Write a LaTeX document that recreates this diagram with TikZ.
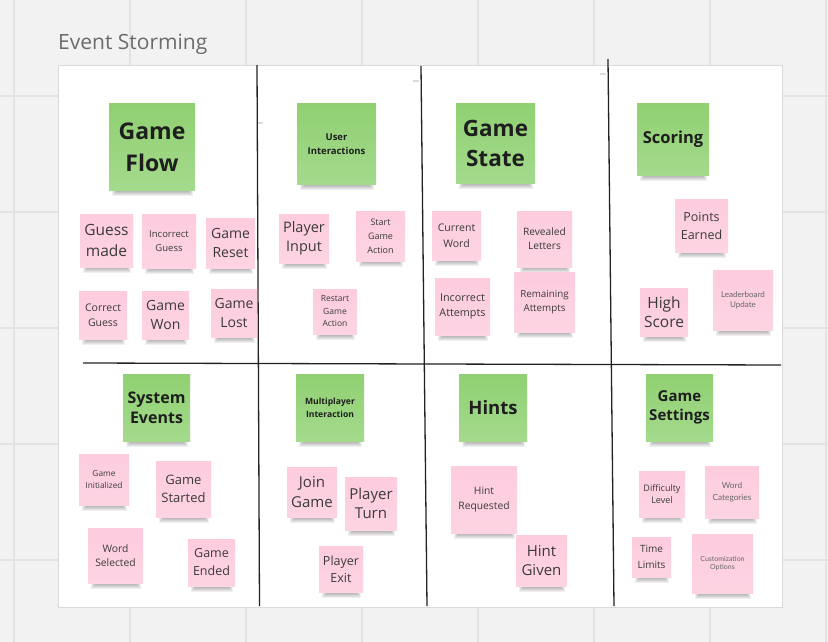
\documentclass[tikz,border=0pt]{standalone}
\usepackage{fontspec}
\setmainfont{Open Sans}
\newfontfamily\latofont{Lato}

\definecolor{canvas}{HTML}{F2F2F2}
\definecolor{gridline}{HTML}{E3E3E3}
\definecolor{boardedge}{HTML}{DADADA}
\definecolor{titlegray}{HTML}{6B6B6B}
\definecolor{divider}{HTML}{222222}
\definecolor{greentop}{HTML}{90D072}
\definecolor{greenbot}{HTML}{A4DA8C}
\definecolor{greentext}{HTML}{1E1E1E}
\definecolor{pinktop}{HTML}{FDCCDE}
\definecolor{pinkbot}{HTML}{FDD4E3}
\definecolor{pinktext}{HTML}{3A3A3A}
\definecolor{softtext}{HTML}{666666}

\tikzset{
  x=1pt, y=-1pt,
  note/.style={inner sep=0pt, align=center, shading=axis, shading angle=0},
  greennote/.style={note, top color=greentop, bottom color=greenbot,
    text=greentext, execute at begin node=\bfseries},
  pinknote/.style={note, top color=pinktop, bottom color=pinkbot, text=pinktext},
  softnote/.style={pinknote, text=softtext, execute at begin node=\latofont},
  divline/.style={draw=divider, line width=1.3pt},
  tick/.style={draw=boardedge, line width=1.5pt},
}

% #1 name, #2 style, #3-#6 box corners (x0,y0,x1,y1), #7 size, #8 leading, #9 text
\newcommand\stickynote[9]{%
  \foreach \k in {1,...,6}{%
    \fill[black, opacity=0.06] ({#3+1.5+\k}, {#6-2}) rectangle ({#5-1.5-\k}, {#6+7-\k});
  }
  \node[#2, minimum width={#5-#3}, minimum height={#6-#4},
        font=\fontsize{#7}{#8}\selectfont]
    (#1) at ({(#3+#5)/2}, {(#4+#6)/2}) {#9};
}

\begin{document}
\begin{tikzpicture}
  % canvas with its grid
  \fill[canvas] (0,0) rectangle (828,642);
  \useasboundingbox (0,0) rectangle (828,642);
  \foreach \gx in {14,130,246,362,478,594,710,826}
    \draw[gridline, line width=1.5pt] (\gx,0) -- (\gx,642);
  \foreach \gy in {96,212,328,444,560}
    \draw[gridline, line width=1.5pt] (0,\gy) -- (828,\gy);

  % frame title and board
  \node[anchor=base west, inner sep=0pt, text=titlegray,
        font=\fontsize{21}{25}\selectfont] (title) at (58,50) {Event Storming};
  \fill[white, draw=boardedge, line width=1pt] (58,66) rectangle (782,607);

  % stray pen marks on the board
  \draw[tick] (413,81) -- (419,81);
  \draw[tick] (600,74) -- (606,74);
  \draw[tick] (257,123) -- (263,123);

  % hand-drawn dividers
  \draw[divline] (257,65) -- (259.5,606);
  \draw[divline] (421,66) -- (427,606);
  \draw[divline] (608,59) -- (614,606);
  \draw[divline] (83,363) -- (781,365);

  % ---- Game Flow
  \stickynote{gameflow}{greennote}{109}{104}{195}{190}{23}{32}{Game\\Flow}
  \stickynote{guessmade}{pinknote}{80}{214}{133}{267}{15.5}{21.5}{Guess\\made}
  \stickynote{incorrectguess}{pinknote}{142}{214}{196}{268}{9.5}{13.7}{Incorrect\\Guess}
  \stickynote{gamereset}{pinknote}{206}{218}{255}{268}{14}{19.3}{Game\\Reset}
  \stickynote{correctguess}{pinknote}{79}{291}{127}{339}{10.5}{14.7}{Correct\\Guess}
  \stickynote{gamewon}{pinknote}{142}{291}{189}{339}{14}{18.7}{Game\\Won}
  \stickynote{gamelost}{pinknote}{211}{289}{257}{337}{14}{18.7}{Game\\Lost}

  % ---- User Interactions
  \stickynote{userinter}{greennote}{297}{104}{376}{184}{9.5}{14}{User\\Interactions}
  \stickynote{playerinput}{pinknote}{279}{214}{329}{263}{14.5}{18.7}{Player\\Input}
  \stickynote{startgame}{pinknote}{356}{211}{405}{261}{9}{14}{Start\\Game\\Action}
  \stickynote{restartgame}{pinknote}{313}{289}{357}{334}{8.5}{12.5}{Restart\\Game\\Action}

  % ---- Game State
  \stickynote{gamestate}{greennote}{456}{104}{535}{183}{22.5}{29.5}{Game\\State}
  \stickynote{currentword}{pinknote}{432}{211}{481}{260}{10.5}{16}{Current\\Word}
  \stickynote{revealed}{pinknote}{517}{211}{572}{267}{10.2}{14}{Revealed\\Letters}
  \stickynote{incorrectatt}{pinknote}{435}{278}{490}{335}{10.8}{14.7}{Incorrect\\Attempts}
  \stickynote{remainingatt}{pinknote}{514}{272}{575}{332}{9.8}{13.3}{Remaining\\Attempts}

  % ---- Scoring
  \stickynote{scoring}{greennote}{637}{104}{709}{175}{16.5}{20}{Scoring}
  \stickynote{points}{pinknote}{675}{199}{728}{252}{12.5}{18}{Points\\Earned}
  \stickynote{highscore}{pinknote}{640}{288}{688}{336}{15.5}{19.5}{High\\Score}
  \stickynote{leaderboard}{softnote}{713}{270}{773}{330}{8}{9.8}{Leaderboard\\Update}

  % ---- System Events
  \stickynote{sysevents}{greennote}{123}{374}{190}{441}{16}{20}{System\\Events}
  \stickynote{gameinit}{pinknote}{79}{454}{129}{505}{8.3}{12}{Game\\Initialized}
  \stickynote{gamestarted}{pinknote}{156}{461}{211}{517}{13}{17.5}{Game\\Started}
  \stickynote{wordselected}{pinknote}{88}{528}{143}{583}{10.3}{14.7}{Word\\Selected}
  \stickynote{gameended}{pinknote}{188}{539}{235}{586}{12.5}{18}{Game\\Ended}

  % ---- Multiplayer Interaction
  \stickynote{multiplayer}{greennote}{296}{374}{364}{441}{8.6}{12.7}{Multiplayer\\Interaction}
  \stickynote{joingame}{pinknote}{287}{467}{337}{517}{15}{19.5}{Join\\Game}
  \stickynote{playerturn}{pinknote}{345}{477}{397}{530}{15}{18.7}{Player\\Turn}
  \stickynote{playerexit}{pinknote}{319}{546}{363}{592}{12.5}{16.7}{Player\\Exit}

  % ---- Hints
  \stickynote{hints}{greennote}{459}{374}{527}{441}{18.5}{24}{Hints}
  \stickynote{hintreq}{pinknote}{451}{466}{517}{533}{10.3}{15.3}{Hint\\Requested}
  \stickynote{hintgiven}{pinknote}{516}{535}{567}{586}{15}{19.5}{Hint\\Given}

  % ---- Game Settings
  \stickynote{settings}{greennote}{646}{374}{713}{441}{15}{18.7}{Game\\Settings}
  \stickynote{difficulty}{pinknote}{639}{471}{685}{517}{9}{12}{Difficulty\\Level}
  \stickynote{categories}{softnote}{705}{466}{759}{518}{8.3}{12}{Word\\Categories}
  \stickynote{timelimits}{pinknote}{632}{537}{671}{577}{10}{16}{Time\\Limits}
  \stickynote{customize}{softnote}{692}{534}{753}{593}{7}{8.8}{Customization\\Options}
\end{tikzpicture}
\end{document}
